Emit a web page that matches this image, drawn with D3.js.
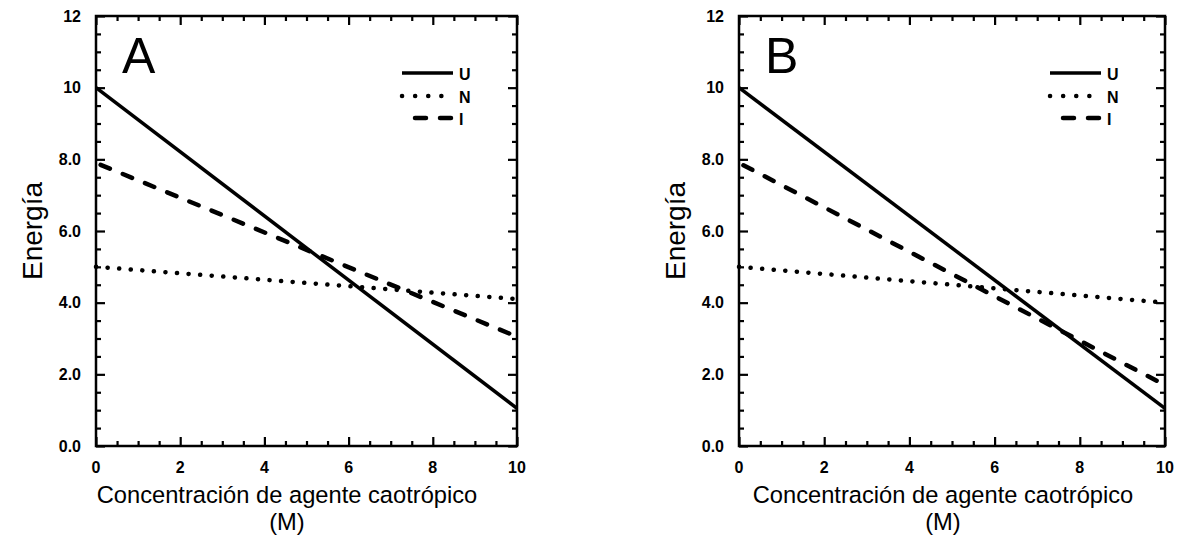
<!DOCTYPE html>
<html>
<head>
<meta charset="utf-8">
<script src="https://cdn.jsdelivr.net/npm/d3@7"></script>
<style>
  body { margin: 0; background: #fff; }
  svg { display: block; font-family: "Liberation Sans", Arial, sans-serif; }
</style>
</head>
<body>
<div id="chart"></div>
<script>
// Data
const concentration = [0, 10];
const panelA_U = [10.0, 1.05];
const panelA_N = [5.0, 4.1];
const panelA_I = [7.9, 3.05];
const panelB_U = [10.0, 1.05];
const panelB_N = [5.0, 4.0];
const panelB_I = [7.9, 1.7];
const seriesNames = ["U", "N", "I"];
const xTickValues = [0, 2, 4, 6, 8, 10];
const xMinorTicks = [0.5, 1, 1.5, 2.5, 3, 3.5, 4.5, 5, 5.5, 6.5, 7, 7.5, 8.5, 9, 9.5];
const yTickValues = [0, 2, 4, 6, 8, 10, 12];
const yMinorTicks = [0.5, 1, 1.5, 2.5, 3, 3.5, 4.5, 5, 5.5, 6.5, 7, 7.5, 8.5, 9, 9.5, 10.5, 11, 11.5];
const yTickLabels = ["0.0", "2.0", "4.0", "6.0", "8.0", "10", "12"];

const width = 1178;
const height = 538;

const svg = d3.select("#chart")
  .append("svg")
  .attr("width", width)
  .attr("height", height);

// line styles for U, N, I
const dashStyles = {
  U: null,
  N: "0.1,11.5",
  I: "10,14"
};

function tickOnly(sel, axis, tx, ty) {
  sel.append("g")
    .attr("transform", `translate(${tx},${ty})`)
    .call(axis.tickFormat(""))
    .call(s => s.select(".domain").remove())
    .call(s => s.selectAll(".tick line").attr("stroke", "#000").attr("stroke-width", 2.2));
}

function drawPanel(opts) {
  const x = d3.scaleLinear().domain([0, 10]).range([opts.left, opts.right]);
  const y = d3.scaleLinear().domain([0, 12]).range([446, 16]);
  const g = svg.append("g");

  // inward ticks on all four sides, long on majors, short on minors
  [[xTickValues, 9], [xMinorTicks, 5]].forEach(([vals, len]) => {
    tickOnly(g, d3.axisBottom(x).tickValues(vals).tickSizeInner(-len).tickSizeOuter(0), 0, y(0));
    tickOnly(g, d3.axisTop(x).tickValues(vals).tickSizeInner(-len).tickSizeOuter(0), 0, y(12));
  });
  [[yTickValues, 9], [yMinorTicks, 5]].forEach(([vals, len]) => {
    tickOnly(g, d3.axisLeft(y).tickValues(vals).tickSizeInner(-len).tickSizeOuter(0), x(0), 0);
    tickOnly(g, d3.axisRight(y).tickValues(vals).tickSizeInner(-len).tickSizeOuter(0), x(10), 0);
  });

  // frame
  g.append("rect")
    .attr("x", x(0))
    .attr("y", y(12))
    .attr("width", x(10) - x(0))
    .attr("height", y(0) - y(12))
    .attr("fill", "none")
    .attr("stroke", "#000")
    .attr("stroke-width", 2.5);

  // tick labels
  g.selectAll(".xlab")
    .data(xTickValues)
    .join("text")
    .attr("x", d => x(d))
    .attr("y", 473)
    .attr("text-anchor", "middle")
    .style("font-size", "16px")
    .style("font-weight", "bold")
    .text(d => d);

  g.selectAll(".ylab")
    .data(yTickValues)
    .join("text")
    .attr("x", x(0) - 15)
    .attr("y", d => y(d) + 5.5)
    .attr("text-anchor", "end")
    .style("font-size", "16px")
    .style("font-weight", "bold")
    .text((d, i) => yTickLabels[i]);

  // axis titles
  g.append("text")
    .attr("transform", `translate(${x(0) - 54},${y(6)}) rotate(-90)`)
    .attr("text-anchor", "middle")
    .style("font-size", "28px")
    .text("Energía");

  g.append("text")
    .attr("x", opts.titleX)
    .attr("y", 503)
    .attr("text-anchor", "middle")
    .style("font-size", "23.7px")
    .text("Concentración de agente caotrópico");

  g.append("text")
    .attr("x", opts.titleX)
    .attr("y", 530)
    .attr("text-anchor", "middle")
    .style("font-size", "23.7px")
    .text("(M)");

  // panel letter
  g.append("text")
    .attr("x", x(0) + 26)
    .attr("y", 73)
    .style("font-size", "50px")
    .text(opts.letter);

  // series lines
  const line = d3.line()
    .x((d, i) => x(concentration[i]))
    .y(d => y(d));

  seriesNames.forEach(name => {
    g.append("path")
      .datum(opts.series[name])
      .attr("d", line)
      .attr("fill", "none")
      .attr("stroke", "#000")
      .attr("stroke-width", name === "U" ? 3.5 : 4.5)
      .attr("stroke-linecap", name === "U" ? "butt" : "round")
      .attr("stroke-dasharray", dashStyles[name])
      .attr("stroke-dashoffset", name === "I" ? -5 : 0);
  });

  // legend
  const legX = x(10) - 116;
  const legRows = [73, 96, 118];
  const legend = g.append("g");
  seriesNames.forEach((name, i) => {
    const x1 = name === "I" ? legX + 14 : legX + 1;
    const x2 = name === "N" ? legX + 41 : legX + 52;
    legend.append("line")
      .attr("x1", x1).attr("x2", x2)
      .attr("y1", legRows[i]).attr("y2", legRows[i])
      .attr("stroke", "#000")
      .attr("stroke-width", name === "U" ? 3.5 : 4.5)
      .attr("stroke-linecap", name === "U" ? "butt" : "round")
      .attr("stroke-dasharray", name === "I" ? "11,14" : (name === "N" ? "0.1,13" : null));
    legend.append("text")
      .attr("x", legX + 58)
      .attr("y", legRows[i] + 7)
      .style("font-size", "16px")
      .style("font-weight", "bold")
      .text(name);
  });
}

drawPanel({
  left: 96, right: 517, letter: "A", titleX: 287,
  series: { U: panelA_U, N: panelA_N, I: panelA_I }
});
drawPanel({
  left: 739, right: 1165, letter: "B", titleX: 943,
  series: { U: panelB_U, N: panelB_N, I: panelB_I }
});
</script>
</body>
</html>
